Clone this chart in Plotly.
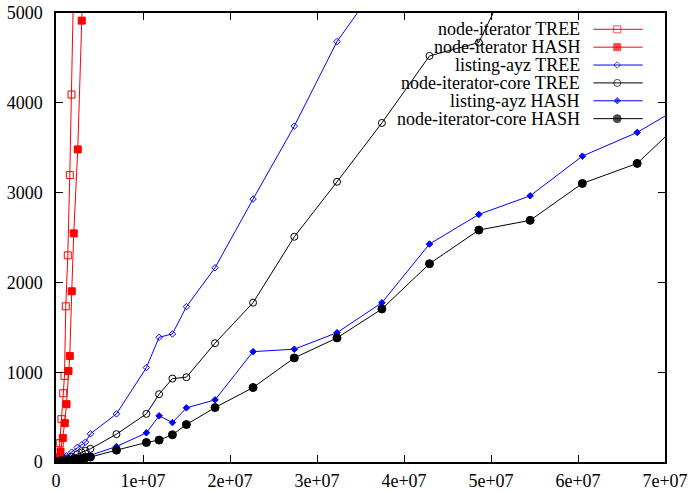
import plotly.graph_objects as go

# ---- data -------------------------------------------------------------
# graph size (edges) for the listing-ayz / node-iterator-core runs
edges = [1.0e5, 6.0e5, 1.2e6, 1.8e6, 2.43e6, 2.96e6, 3.39e6, 3.96e6,
         6.95e6, 1.039e7, 1.185e7, 1.338e7, 1.499e7, 1.828e7, 2.265e7,
         2.739e7, 3.23e7, 3.746e7, 4.293e7, 4.86e7, 5.45e7, 6.05e7,
         6.68e7, 7.4e7]

# node-iterator runs (only small graphs)
ni_tree_edges = [5.0e4, 2.0e5, 4.36e5, 6.3e5, 8.27e5, 9.76e5, 1.125e6,
                 1.355e6, 1.585e6, 1.78e6, 2.04e6]
ni_tree_time = [5, 45, 210, 477, 766, 959, 1734, 2301, 3195, 4092, 5400]

ni_hash_edges = [1.0e5, 3.0e5, 5.17e5, 7.8e5, 1.01e6, 1.206e6, 1.436e6,
                 1.585e6, 1.81e6, 2.04e6, 2.5e6, 2.96e6, 3.39e6]
ni_hash_time = [10, 50, 117, 266, 433, 644, 1014, 1181, 1901, 2546, 3481,
                4915, 6255]

ayz_tree_time = [5, 30, 70, 110, 161, 191, 221, 314,
                 536, 1051, 1389, 1426, 1730, 2163, 2928, 3740, 4682, 5383]
core_tree_time = [3, 20, 40, 60, 85, 106, 125, 147,
                  310, 536, 755, 929, 944, 1323, 1774, 2508, 3120, 3776,
                  4522, 4671, 5850]
ayz_hash_time = [2, 10, 22, 33, 45, 55, 62, 75,
                 172, 325, 514, 439, 603, 692, 1229, 1256, 1440, 1774,
                 2427, 2757, 2964, 3406, 3670, 4080]
core_hash_time = [2, 8, 16, 25, 33, 40, 47, 55,
                  132, 217, 244, 303, 417, 606, 829, 1159, 1382, 1704,
                  2208, 2583, 2691, 3102, 3325, 3985]

series_names = ["node-iterator TREE", "node-iterator HASH", "listing-ayz TREE",
                "node-iterator-core TREE", "listing-ayz HASH",
                "node-iterator-core HASH"]

x_tickvals = [0, 1e7, 2e7, 3e7, 4e7, 5e7, 6e7, 7e7]
x_ticktext = ["0", "1e+07", "2e+07", "3e+07", "4e+07", "5e+07", "6e+07", "7e+07"]
y_tickvals = [0, 1000, 2000, 3000, 4000, 5000]

# ---- styles -----------------------------------------------------------
FONT = "Liberation Serif"
styles = [
    dict(color="#ff0000", symbol="square-open", size=7),
    dict(color="#ff0000", symbol="square", size=7),
    dict(color="#0000ff", symbol="diamond-open", size=5),
    dict(color="#000000", symbol="circle-open", size=7),
    dict(color="#0000ff", symbol="diamond", size=5),
    dict(color="#000000", symbol="circle", size=8),
]

series_data = [
    (ni_tree_edges, ni_tree_time),
    (ni_hash_edges, ni_hash_time),
    (edges[:len(ayz_tree_time)], ayz_tree_time),
    (edges[:len(core_tree_time)], core_tree_time),
    (edges[:len(ayz_hash_time)], ayz_hash_time),
    (edges[:len(core_hash_time)], core_hash_time),
]

fig = go.Figure()

for name, (xs, ys), st in zip(series_names, series_data, styles):
    fig.add_trace(go.Scatter(
        x=xs, y=ys, name=name, mode="lines+markers", showlegend=False,
        line=dict(color=st["color"], width=1),
        marker=dict(symbol=st["symbol"], size=st["size"], color=st["color"],
                    line=dict(color=st["color"], width=1)),
    ))

# ---- key box in the upper right (text left of the sample) ---------------
key_text_x = 0.863
key_x0, key_xm, key_x1 = 0.8824, 0.9216, 0.9634
key_top, key_step = 0.9637, 0.0398

for i, (name, st) in enumerate(zip(series_names, styles)):
    ky = key_top - i * key_step
    fig.add_trace(go.Scatter(
        x=[key_x0, key_xm, key_x1], y=[ky, ky, ky], xaxis="x2", yaxis="y2",
        mode="lines+markers", showlegend=False, hoverinfo="skip",
        line=dict(color=st["color"], width=1),
        marker=dict(symbol=st["symbol"], size=[0, st["size"], 0],
                    color=st["color"], line=dict(color=st["color"], width=1)),
    ))
    fig.add_annotation(
        x=key_text_x, y=ky, xref="paper", yref="paper", text=name,
        showarrow=False, xanchor="right", yanchor="middle",
        font=dict(family=FONT, size=18, color="black"),
    )

axis_common = dict(
    showgrid=False, zeroline=False, showline=True, linecolor="black",
    linewidth=1.5, mirror="ticks", ticks="inside", ticklen=7,
    tickcolor="black", tickwidth=1, automargin=False,
    tickfont=dict(family=FONT, size=18, color="black"),
)

fig.update_layout(
    width=688, height=493,
    margin=dict(l=55.5, r=23, t=12.7, b=30.8),
    paper_bgcolor="white", plot_bgcolor="white",
    xaxis=dict(range=[0, 7e7], tickvals=x_tickvals, ticktext=x_ticktext,
               ticklabelstandoff=2, **axis_common),
    yaxis=dict(range=[0, 5000], tickvals=y_tickvals,
               ticktext=[str(v) for v in y_tickvals],
               ticklabelstandoff=8, **axis_common),
    xaxis2=dict(overlaying="x", range=[0, 1], visible=False, fixedrange=True),
    yaxis2=dict(overlaying="y", range=[0, 1], visible=False, fixedrange=True),
    font=dict(family=FONT, size=18, color="black"),
)

fig.write_html("out.html")
